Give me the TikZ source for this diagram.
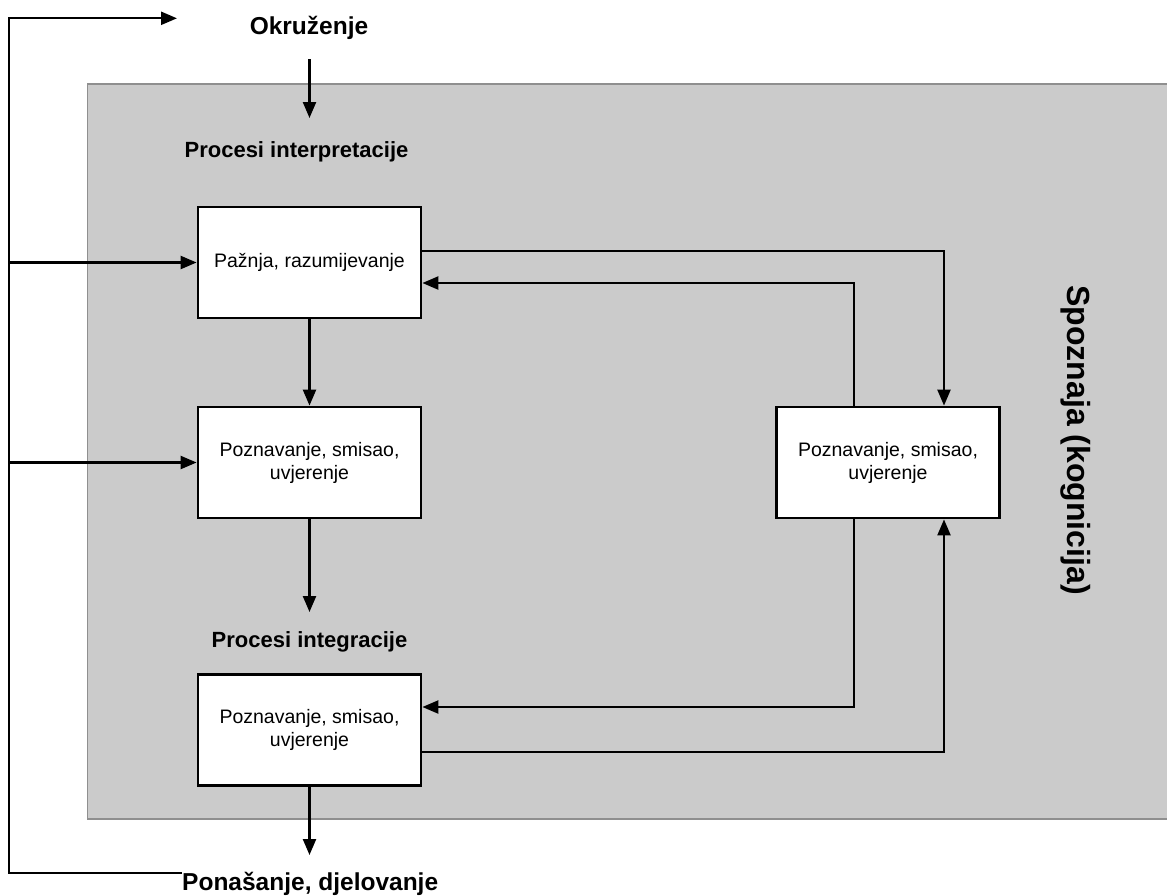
\documentclass[tikz,border=0pt]{standalone}
\usepackage{fontspec}
\setmainfont{Liberation Sans}
\usetikzlibrary{arrows.meta}
\definecolor{panel}{HTML}{CBCBCB}
\definecolor{panelline}{HTML}{8F8F8F}
\tikzset{
  box/.style={draw=black, line width=2.8pt, fill=white, minimum width=223pt, minimum height=111pt,
    inner sep=0pt, align=center, font=\fontsize{19.5}{23}\selectfont},
  arr/.style={line width=2.3pt, -{Triangle[length=16pt,width=13pt]}},
  heading/.style={font=\fontsize{22}{26}\selectfont\bfseries, inner sep=0pt, anchor=base},
  bigheading/.style={font=\fontsize{24.5}{28}\selectfont\bfseries, inner sep=0pt},
}
\begin{document}
\begin{tikzpicture}[x=1pt,y=-1pt]
\useasboundingbox (0,0) rectangle (1167,895);
% panel
\fill[panel] (87.5,84) rectangle (1167,819);
\draw[panelline, line width=1.5pt] (1167,84) -- (87.5,84) -- (87.5,819) -- (1167,819);

% labels
\node[bigheading, anchor=base] (okr) at (309,34) {Okruženje};
\node[heading] (pint) at (296.5,157) {Procesi interpretacije};
\node[heading] (pintg) at (309.5,647) {Procesi integracije};
\node[bigheading, anchor=base west] (pon) at (182,890) {Ponašanje, djelovanje};
\node[font=\fontsize{32}{36}\selectfont\bfseries, rotate=-90, inner sep=0pt] (spo) at (1076,440) {Spoznaja (kognicija)};

% boxes
\node[box] (b1) at (309.5,262.5) {Pažnja, razumijevanje};
\node[box] (b2) at (309.5,462.5) {Poznavanje, smisao,\\uvjerenje};
\node[box] (b3) at (309.5,730) {Poznavanje, smisao,\\uvjerenje};
\node[box] (bR) at (888,462.5) {Poznavanje, smisao,\\uvjerenje};

% coordinates
\coordinate (okrs) at (309.5,59);
\coordinate (okre) at (309.5,118);
\coordinate (b2e) at (309.5,612);
\coordinate (b3e) at (309.5,855);
\coordinate (lb) at (182,873);
\coordinate (lc1) at (9.3,873);
\coordinate (lc2) at (9.3,18.3);
\coordinate (lt) at (177,18.3);

% vertical flow
\draw[arr] (okrs) -- (okre);
\draw[arr] (b1.south) -- (b2.north);
\draw[arr] (b2.south) -- (b2e);
\draw[arr] (b3.south) -- (b3e);

% right loop
\draw[arr] ([yshift=11.5pt]b1.east) -| ([xshift=56pt]bR.north);
\draw[arr] ([xshift=-34pt]bR.north) |- ([yshift=-20.5pt]b1.east);
\draw[arr] ([xshift=-34pt]bR.south) |- ([yshift=23pt]b3.east);
\draw[arr] ([yshift=-22pt]b3.east) -| ([xshift=56pt]bR.south);

% left loop
\draw[arr] (lb) -- (lc1) -- (lc2) -- (lt);
\draw[arr] (lc1 |- b1.west) -- (b1.west);
\draw[arr] (lc1 |- b2.west) -- (b2.west);
\end{tikzpicture}
\end{document}
